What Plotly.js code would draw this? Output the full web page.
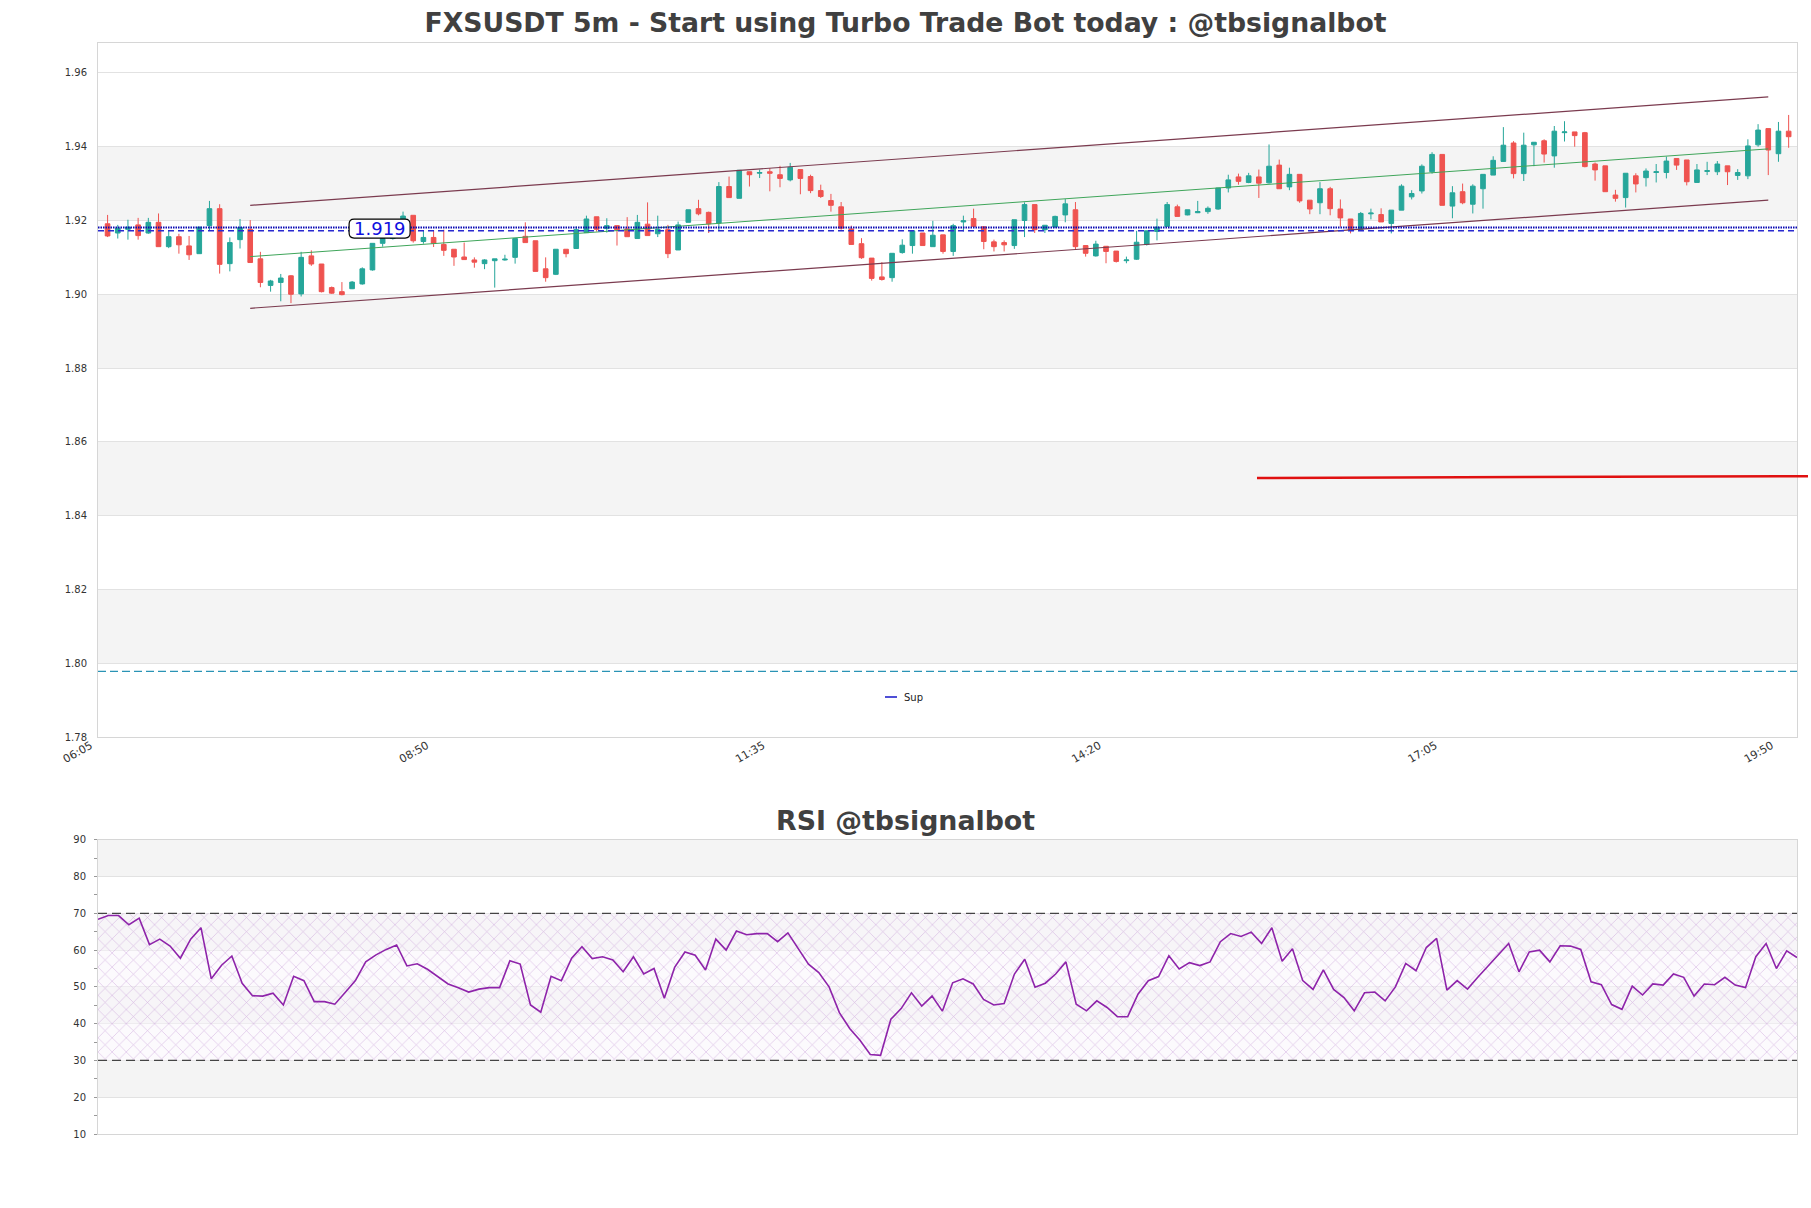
<!DOCTYPE html>
<html><head><meta charset="utf-8">
<script src="https://cdn.plot.ly/plotly-3.0.1.min.js"></script>
<style>html,body{margin:0;padding:0;background:#fff;} #chart{width:1811px;height:1208px;}</style>
</head><body><div id="chart"></div>
<script>
const timeLabels = ['06:05','08:50','11:35','14:20','17:05','19:50'];
const tickIdx = [0,33,66,99,132,165];

const open = [1.9191,1.9166,1.9176,1.9188,1.9166,1.9195,1.9129,1.9156,1.9131,1.9110,
1.9186,1.9232,1.9083,1.9148,1.9176,1.9096,1.9024,1.9032,1.9050,1.9001,
1.9104,1.9082,1.9018,1.9007,1.9015,1.9028,1.9066,1.9138,1.9151,1.9160,
1.9214,1.9143,1.9154,1.9135,1.9122,1.9101,1.9093,1.9083,1.9091,1.9093,
1.9100,1.9157,1.9145,1.9069,1.9054,1.9122,1.9124,1.9167,1.9210,1.9178,
1.9186,1.9177,1.9151,1.9190,1.9164,1.9175,1.9120,1.9195,1.9232,1.9222,
1.9193,1.9292,1.9260,1.9332,1.9328,1.9332,1.9324,1.9310,1.9338,1.9319,
1.9281,1.9254,1.9237,1.9177,1.9137,1.9098,1.9047,1.9045,1.9113,1.9132,
1.9166,1.9129,1.9161,1.9116,1.9196,1.9205,1.9183,1.9142,1.9140,1.9132,
1.9200,1.9243,1.9175,1.9182,1.9215,1.9229,1.9132,1.9104,1.9130,1.9117,
1.9091,1.9095,1.9135,1.9170,1.9184,1.9237,1.9215,1.9221,1.9224,1.9231,
1.9288,1.9318,1.9303,1.9318,1.9302,1.9350,1.9291,1.9325,1.9255,1.9248,
1.9286,1.9231,1.9204,1.9176,1.9218,1.9216,1.9192,1.9228,1.9264,1.9280,
1.9332,1.9379,1.9239,1.9278,1.9244,1.9286,1.9323,1.9360,1.9410,1.9327,
1.9405,1.9416,1.9375,1.9438,1.9440,1.9438,1.9353,1.9348,1.9269,1.9262,
1.9321,1.9316,1.9330,1.9330,1.9368,1.9364,1.9303,1.9333,1.9332,1.9348,
1.9322,1.9321,1.9405,1.9449,1.9381,1.9442];
const high = [1.9215,1.9188,1.9202,1.9207,1.9207,1.9219,1.9173,1.9164,1.9158,1.9182,
1.9253,1.9244,1.9154,1.9204,1.9201,1.9115,1.9039,1.9055,1.9052,1.9115,
1.9119,1.9082,1.9021,1.9033,1.9036,1.9073,1.9138,1.9157,1.9170,1.9224,
1.9214,1.9172,1.9173,1.9175,1.9122,1.9140,1.9100,1.9095,1.9096,1.9107,
1.9151,1.9195,1.9145,1.9100,1.9122,1.9122,1.9184,1.9213,1.9210,1.9206,
1.9186,1.9209,1.9215,1.9249,1.9213,1.9188,1.9197,1.9229,1.9256,1.9224,
1.9304,1.9319,1.9336,1.9332,1.9338,1.9342,1.9348,1.9356,1.9338,1.9324,
1.9297,1.9272,1.9250,1.9186,1.9152,1.9098,1.9087,1.9111,1.9149,1.9172,
1.9166,1.9199,1.9161,1.9191,1.9213,1.9232,1.9183,1.9148,1.9146,1.9202,
1.9249,1.9243,1.9187,1.9213,1.9258,1.9250,1.9132,1.9145,1.9130,1.9117,
1.9102,1.9172,1.9172,1.9205,1.9250,1.9243,1.9229,1.9253,1.9238,1.9288,
1.9324,1.9327,1.9329,1.9338,1.9406,1.9365,1.9343,1.9325,1.9255,1.9304,
1.9291,1.9257,1.9204,1.9223,1.9232,1.9233,1.9228,1.9298,1.9282,1.9352,
1.9385,1.9379,1.9293,1.9300,1.9298,1.9325,1.9374,1.9453,1.9415,1.9438,
1.9412,1.9420,1.9456,1.9469,1.9440,1.9440,1.9357,1.9348,1.9283,1.9328,
1.9328,1.9341,1.9353,1.9373,1.9368,1.9364,1.9353,1.9359,1.9361,1.9348,
1.9339,1.9420,1.9461,1.9449,1.9467,1.9486];
const low = [1.9155,1.9151,1.9148,1.9148,1.9164,1.9129,1.9125,1.9110,1.9093,1.9110,
1.9173,1.9056,1.9062,1.9124,1.9086,1.9019,1.9007,1.8981,1.8976,1.8994,
1.9077,1.9005,1.9001,1.8997,1.9014,1.9026,1.9064,1.9129,1.9148,1.9155,
1.9140,1.9137,1.9128,1.9104,1.9077,1.9093,1.9072,1.9068,1.9018,1.9091,
1.9083,1.9140,1.9062,1.9034,1.9052,1.9100,1.9124,1.9167,1.9170,1.9167,
1.9132,1.9156,1.9151,1.9159,1.9155,1.9098,1.9120,1.9195,1.9214,1.9166,
1.9173,1.9262,1.9260,1.9292,1.9315,1.9279,1.9290,1.9306,1.9271,1.9274,
1.9261,1.9224,1.9175,1.9135,1.9096,1.9037,1.9037,1.9034,1.9110,1.9110,
1.9132,1.9129,1.9110,1.9104,1.9170,1.9182,1.9122,1.9116,1.9116,1.9123,
1.9155,1.9166,1.9166,1.9182,1.9195,1.9122,1.9102,1.9102,1.9084,1.9086,
1.9084,1.9093,1.9132,1.9146,1.9184,1.9211,1.9214,1.9220,1.9218,1.9229,
1.9276,1.9297,1.9301,1.9261,1.9300,1.9286,1.9282,1.9248,1.9217,1.9217,
1.9214,1.9183,1.9165,1.9176,1.9203,1.9196,1.9165,1.9228,1.9257,1.9273,
1.9327,1.9241,1.9206,1.9244,1.9219,1.9232,1.9323,1.9359,1.9314,1.9307,
1.9347,1.9357,1.9343,1.9414,1.9400,1.9344,1.9308,1.9278,1.9251,1.9235,
1.9276,1.9292,1.9303,1.9314,1.9337,1.9295,1.9303,1.9323,1.9323,1.9296,
1.9310,1.9312,1.9400,1.9323,1.9359,1.9397];
const close = [1.9158,1.9179,1.9182,1.9159,1.9195,1.9129,1.9156,1.9134,1.9107,1.9182,
1.9232,1.9081,1.9140,1.9181,1.9086,1.9032,1.9036,1.9044,1.9000,1.9100,
1.9082,1.9007,1.9003,1.8999,1.9033,1.9069,1.9138,1.9151,1.9165,1.9212,
1.9145,1.9154,1.9138,1.9119,1.9101,1.9094,1.9087,1.9093,1.9096,1.9095,
1.9151,1.9140,1.9062,1.9045,1.9122,1.9110,1.9175,1.9204,1.9176,1.9186,
1.9175,1.9156,1.9195,1.9159,1.9176,1.9110,1.9188,1.9229,1.9218,1.9191,
1.9292,1.9262,1.9336,1.9324,1.9330,1.9328,1.9314,1.9344,1.9314,1.9281,
1.9265,1.9241,1.9179,1.9135,1.9099,1.9043,1.9040,1.9111,1.9133,1.9172,
1.9132,1.9160,1.9116,1.9186,1.9199,1.9184,1.9143,1.9129,1.9134,1.9202,
1.9243,1.9175,1.9187,1.9211,1.9245,1.9129,1.9111,1.9136,1.9116,1.9089,
1.9093,1.9141,1.9172,1.9182,1.9243,1.9211,1.9229,1.9224,1.9233,1.9288,
1.9310,1.9306,1.9321,1.9301,1.9347,1.9286,1.9325,1.9253,1.9231,1.9286,
1.9232,1.9207,1.9174,1.9219,1.9220,1.9196,1.9228,1.9293,1.9273,1.9347,
1.9379,1.9241,1.9275,1.9248,1.9293,1.9325,1.9363,1.9404,1.9327,1.9404,
1.9412,1.9380,1.9442,1.9440,1.9430,1.9346,1.9337,1.9278,1.9260,1.9328,
1.9299,1.9334,1.9332,1.9361,1.9350,1.9305,1.9337,1.9335,1.9353,1.9332,
1.9330,1.9402,1.9445,1.9391,1.9442,1.9427];

const rsi = [68.4,69.4,69.4,66.9,68.7,61.5,63.0,61.1,57.8,63.0,
66.1,52.2,55.9,58.4,51.0,47.6,47.5,48.3,45.1,52.9,
51.7,46.0,46.0,45.3,48.5,51.7,56.8,58.7,60.2,61.4,
55.7,56.3,54.8,52.9,50.8,49.8,48.6,49.4,49.8,49.8,
57.1,56.2,45.1,43.1,52.9,51.7,57.8,60.9,57.7,58.2,
57.3,54.1,58.2,53.5,55.0,46.9,55.3,59.5,58.6,54.6,
63.0,60.0,65.2,64.2,64.5,64.5,62.3,64.7,60.5,56.2,
53.9,50.0,43.0,38.7,35.5,31.6,31.4,41.2,44.1,48.4,
44.8,47.5,43.4,51.1,52.2,50.8,46.6,45.1,45.5,53.5,
57.5,49.9,51.0,53.5,56.8,45.3,43.5,46.2,44.4,41.9,
41.9,48.0,51.7,52.8,58.5,54.9,56.6,55.8,56.8,62.3,
64.5,63.7,64.9,61.8,66.1,57.0,60.4,51.7,49.3,54.6,
49.3,47.1,43.5,48.4,48.6,46.2,50.0,56.4,54.4,60.7,
63.2,49.1,51.7,49.4,52.6,55.7,58.7,61.8,54.1,59.5,
60.0,56.8,61.2,61.1,60.2,51.4,50.6,45.2,43.9,50.2,
47.8,50.8,50.5,53.5,52.6,47.5,50.8,50.6,52.6,50.5,
49.8,58.2,61.8,55.0,59.8,58.0];

const channelX = [14, 163];
const channelUpper = [1.9241, 1.9535];
const channelLower = [1.8962, 1.9255];
const channelMid = [1.9102, 1.9394];
const supportDotted = 1.9181;
const supportDashed = 1.9172;
const supportLabel = '1.919';
const supportLabelAt = [26.7, 1.9178];
const lowerDashed = 1.7978;
const redLineY = [1.8502, 1.8507];
const priceBands = [[1.80,1.82],[1.84,1.86],[1.88,1.90],[1.92,1.94]];
const rsiBands = [[20,30],[40,50],[60,70],[80,90]];
const rsiLevels = [30, 70];
const priceTicks = [1.78,1.80,1.82,1.84,1.86,1.88,1.90,1.92,1.94,1.96];

const idx = open.map((_, i) => i);
const rsiX = rsi.map((_, i) => i);

const traces = [];
traces.push({
  type: 'candlestick', x: idx, open: open, high: high, low: low, close: close,
  xaxis: 'x', yaxis: 'y', whiskerwidth: 0, hoverinfo: 'skip', showlegend: false,
  increasing: {line: {color: '#26a69a', width: 1}, fillcolor: '#26a69a'},
  decreasing: {line: {color: '#ef5350', width: 1}, fillcolor: '#ef5350'}
});
traces.push({type:'scatter', mode:'lines', x: channelX, y: channelUpper, xaxis:'x', yaxis:'y',
  line:{color:'#7b3b4f', width:1.2}, hoverinfo:'skip', showlegend:false});
traces.push({type:'scatter', mode:'lines', x: channelX, y: channelLower, xaxis:'x', yaxis:'y',
  line:{color:'#7b3b4f', width:1.2}, hoverinfo:'skip', showlegend:false});
traces.push({type:'scatter', mode:'lines', x: channelX, y: channelMid, xaxis:'x', yaxis:'y',
  line:{color:'#3fa55a', width:1}, hoverinfo:'skip', showlegend:false});

// RSI hatch between levels
const rsiEnds = [0, rsi.length - 1];
traces.push({type:'scatter', mode:'lines', x: rsiEnds, y: [rsiLevels[0], rsiLevels[0]], xaxis:'x2', yaxis:'y2',
  line:{width:0, color:'rgba(0,0,0,0)'}, hoverinfo:'skip', showlegend:false});
traces.push({type:'scatter', mode:'lines', x: rsiEnds, y: [rsiLevels[1], rsiLevels[1]], xaxis:'x2', yaxis:'y2',
  line:{width:0, color:'rgba(0,0,0,0)'}, fill:'tonexty', fillcolor:'rgba(0,0,0,0)',
  fillpattern:{shape:'x', fgcolor:'rgba(205,165,220,0.75)', bgcolor:'rgba(250,245,252,0.5)', size:10, solidity:0.12},
  hoverinfo:'skip', showlegend:false});
rsiLevels.forEach(v => traces.push({type:'scatter', mode:'lines', x: rsiEnds, y: [v, v], xaxis:'x2', yaxis:'y2',
  line:{color:'#444444', width:1.3, dash:'9px,5px'}, hoverinfo:'skip', showlegend:false}));
traces.push({type:'scatter', mode:'lines', x: rsiX, y: rsi, xaxis:'x2', yaxis:'y2',
  line:{color:'#8e24aa', width:1.6}, hoverinfo:'skip', showlegend:false});

const L = 98, R = 1797, T = 43, B = 1134, W = 1811, H = 1208;
const px2paperX = p => (p - L) / (R - L);
const px2paperY = p => (B - p) / (B - T);

const shapes = [];
priceBands.forEach(b => shapes.push({type:'rect', xref:'x domain', yref:'y', x0:0, x1:1, y0:b[0], y1:b[1],
  fillcolor:'#f4f4f4', line:{width:0}, layer:'below'}));
rsiBands.forEach(b => shapes.push({type:'rect', xref:'x2 domain', yref:'y2', x0:0, x1:1, y0:b[0], y1:b[1],
  fillcolor:'#f4f4f4', line:{width:0}, layer:'below'}));
shapes.push({type:'line', xref:'x domain', yref:'y', x0:0, x1:1, y0:supportDashed, y1:supportDashed,
  line:{color:'#2a2ad0', width:1.5, dash:'6px,4px'}, layer:'above'});
shapes.push({type:'line', xref:'x domain', yref:'y', x0:0, x1:1, y0:supportDotted, y1:supportDotted,
  line:{color:'#0a0ab4', width:2, dash:'1.5px,1px'}, layer:'above'});
shapes.push({type:'line', xref:'x domain', yref:'y', x0:0, x1:1, y0:lowerDashed, y1:lowerDashed,
  line:{color:'#2a93b5', width:1.3, dash:'8px,4px'}, layer:'above'});
shapes.push({type:'line', xref:'paper', yref:'y', x0:px2paperX(1257), x1:px2paperX(1808), y0:redLineY[0], y1:redLineY[1],
  line:{color:'#e01010', width:2.5}, layer:'above'});
// legend sample line
shapes.push({type:'line', xref:'paper', yref:'paper', x0:px2paperX(885), x1:px2paperX(897), y0:px2paperY(697), y1:px2paperY(697),
  line:{color:'#1414c8', width:1.5}});
// rounded label box
shapes.push({type:'path', xref:'x', yref:'y', xsizemode:'pixel', ysizemode:'pixel',
  xanchor: supportLabelAt[0], yanchor: supportLabelAt[1],
  path:'M -25.5,-9.5 L 25.5,-9.5 Q 30.5,-9.5 30.5,-4.5 L 30.5,4.5 Q 30.5,9.5 25.5,9.5 L -25.5,9.5 Q -30.5,9.5 -30.5,4.5 L -30.5,-4.5 Q -30.5,-9.5 -25.5,-9.5 Z',
  fillcolor:'#ffffff', line:{color:'#000000', width:1.2}, layer:'above'});

const annotations = [
  {text: supportLabel, xref:'x', yref:'y', x: supportLabelAt[0], y: supportLabelAt[1], showarrow:false,
   font:{family:'DejaVu Sans', size:18, color:'#1010e0'}, xanchor:'center', yanchor:'middle'},
  {text:'Sup', xref:'paper', yref:'paper', x: px2paperX(902), y: px2paperY(697), showarrow:false,
   xanchor:'left', yanchor:'middle', font:{family:'DejaVu Sans', size:10, color:'#222'}},
  {text:'RSI @tbsignalbot', xref:'paper', yref:'paper', x: px2paperX(905.5), y: px2paperY(820), showarrow:false,
   xanchor:'center', yanchor:'middle', font:{family:'DejaVu Sans', size:26.8, color:'#404040', weight:'bold'}}
];

const axisLine = '#d6d6d6';
const layout = {
  width: W, height: H,
  margin: {l: L, r: W - R, t: T, b: H - B, pad: 0},
  paper_bgcolor: '#ffffff', plot_bgcolor: '#ffffff',
  font: {family: 'DejaVu Sans', size: 10, color: '#333'},
  showlegend: false,
  boxgap: 0.35,
  title: {text: 'FXSUSDT 5m - Start using Turbo Trade Bot today : @tbsignalbot',
    font: {family: 'DejaVu Sans', size: 26.7, color: '#404040', weight: 'bold'},
    x: 0.5, xref: 'container', xanchor: 'center', y: 1 - 23 / H, yref: 'container', yanchor: 'middle'},
  xaxis: {domain: [0, 1], anchor: 'y', range: [-0.94, 165.82], tickmode: 'array', tickvals: tickIdx, ticktext: timeLabels,
    tickangle: -30, ticks: '', ticklabelshift: -17, ticklabelstandoff: -3, showgrid: false, zeroline: false,
    showline: true, mirror: true, linecolor: axisLine, linewidth: 1,
    rangeslider: {visible: false}, tickfont: {size: 11, color: '#333'}, fixedrange: true},
  yaxis: {domain: [px2paperY(737), 1], anchor: 'x', range: [1.78, 1.9681], tickmode: 'array', tickvals: priceTicks,
    tickformat: '.2f', ticks: '', ticklabelstandoff: 8, showgrid: true, gridcolor: '#e2e2e2', gridwidth: 1,
    zeroline: false, showline: true, mirror: true, linecolor: axisLine, linewidth: 1, tickfont: {size: 10, color: '#333'}},
  xaxis2: {domain: [0, 1], anchor: 'y2', range: [0, rsi.length - 1], showticklabels: false, ticks: '', showgrid: false,
    zeroline: false, showline: true, mirror: true, linecolor: axisLine, linewidth: 1},
  yaxis2: {domain: [0, px2paperY(839.8)], anchor: 'x2', range: [10, 90], dtick: 10, tick0: 10,
    ticks: 'outside', ticklen: 3, tickcolor: '#999', ticklabelstandoff: 6,
    minor: {dtick: 5, ticks: 'outside', ticklen: 3, tickcolor: '#999', showgrid: false},
    showgrid: true, gridcolor: '#e2e2e2', zeroline: false, showline: true, mirror: true, linecolor: axisLine, linewidth: 1,
    tickfont: {size: 10, color: '#333'}},
  shapes: shapes,
  annotations: annotations
};

Plotly.newPlot('chart', traces, layout, {displayModeBar: false, staticPlot: true});
</script>
</body></html>
